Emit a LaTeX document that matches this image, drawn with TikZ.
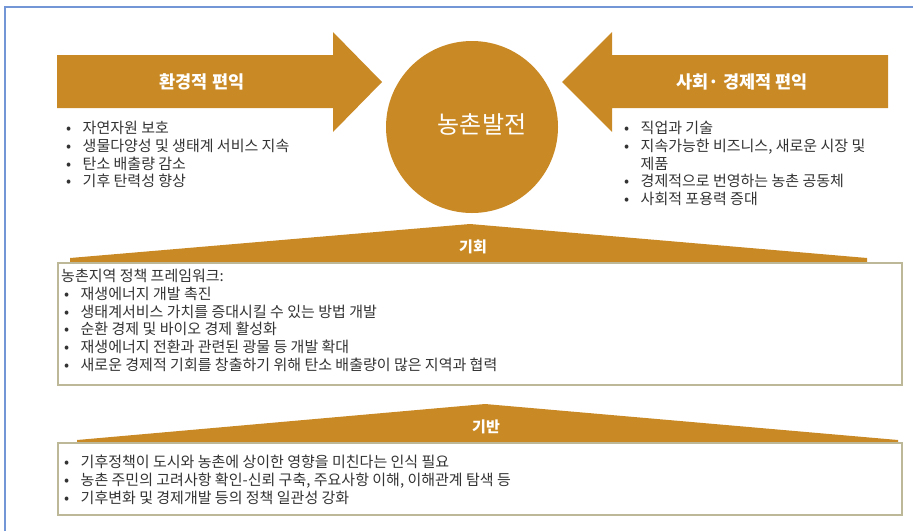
\documentclass[tikz,border=0pt]{standalone}
\usepackage{fontspec}
\setmainfont{Noto Sans CJK KR}
\usetikzlibrary{positioning}

\definecolor{gold}{HTML}{C98A26}
\definecolor{boxline}{HTML}{BDB998}
\definecolor{frameblue}{HTML}{7397D6}
\definecolor{txt}{HTML}{333333}

\tikzset{
  band/.style={fill=gold, draw=none},
  bandlabel/.style={text=white, inner sep=0pt, font=\fontsize{15}{18}\selectfont\bfseries},
  itemlist/.style={anchor=north west, inner sep=0pt, align=left, text=txt,
    font=\fontsize{15}{17.7}\selectfont},
  panel/.style={draw=boxline, line width=1.2pt, fill=white},
}
\newcommand{\itm}{\makebox[16.5pt][l]{•}}

\begin{document}
\begin{tikzpicture}[x=1pt, y=-1pt]
  \useasboundingbox (0,0) rectangle (913,531);
  \draw[frameblue, line width=1.2pt] (5,531) -- (5,7) -- (913,7);

  % two arrows and the circle
  \fill[band] (57,55) -- (333,55) -- (333,32) -- (382,82) -- (333,132) -- (333,108) -- (57,108) -- cycle;
  \fill[band] (888,55) -- (612,55) -- (612,32) -- (562,82) -- (612,132) -- (612,108) -- (888,108) -- cycle;
  \node[circle, fill=gold, minimum size=172pt] (core) at (472,127) {};
  \node[bandlabel, font=\fontsize{24}{28}\selectfont] (coretxt) at (482,124) {농촌발전};
  \node[bandlabel, font=\fontsize{17.5}{20}\selectfont\bfseries] (env) at (202,82) {환경적 편익};
  \node[bandlabel, font=\fontsize{17.5}{20}\selectfont\bfseries] (soc) at (742,82) {사회·\ 경제적 편익};

  \node[itemlist] (envlist) at (66,121) {\itm 자연자원 보호\\ \itm 생물다양성 및 생태계 서비스 지속\\ \itm 탄소 배출량 감소\\ \itm 기후 탄력성 향상};
  \node[itemlist] (soclist) at (624,121) {\itm 직업과 기술\\ \itm 지속가능한 비즈니스, 새로운 시장 및\\ \hspace*{16.5pt}제품\\ \itm 경제적으로 번영하는 농촌 공동체\\ \itm 사회적 포용력 증대};

  % opportunities
  \fill[band] (70,262) -- (70,258) -- (470,224) -- (867,258) -- (867,262) -- cycle;
  \node[bandlabel] (opp) at (473,247) {기회};
  \draw[panel] (58,263) rectangle (902,385);
  \node[itemlist] (opplist) at (61,269) {농촌지역 정책 프레임워크:\\ \hspace*{3pt}\itm 재생에너지 개발 촉진\\ \hspace*{3pt}\itm 생태계서비스 가치를 증대시킬 수 있는 방법 개발\\ \hspace*{3pt}\itm 순환 경제 및 바이오 경제 활성화\\ \hspace*{3pt}\itm 재생에너지 전환과 관련된 광물 등 개발 확대\\ \hspace*{3pt}\itm 새로운 경제적 기회를 창출하기 위해 탄소 배출량이 많은 지역과 협력};

  % foundation
  \fill[band] (77,443) -- (77,440) -- (485,404) -- (898,440) -- (898,443) -- cycle;
  \node[bandlabel] (base) at (486,427) {기반};
  \draw[panel] (58,443) rectangle (902,515);
  \node[itemlist] (baselist) at (64,455) {\itm 기후정책이 도시와 농촌에 상이한 영향을 미친다는 인식 필요\\ \itm 농촌 주민의 고려사항 확인-신뢰 구축, 주요사항 이해, 이해관계 탐색 등\\ \itm 기후변화 및 경제개발 등의 정책 일관성 강화};
\end{tikzpicture}
\end{document}
